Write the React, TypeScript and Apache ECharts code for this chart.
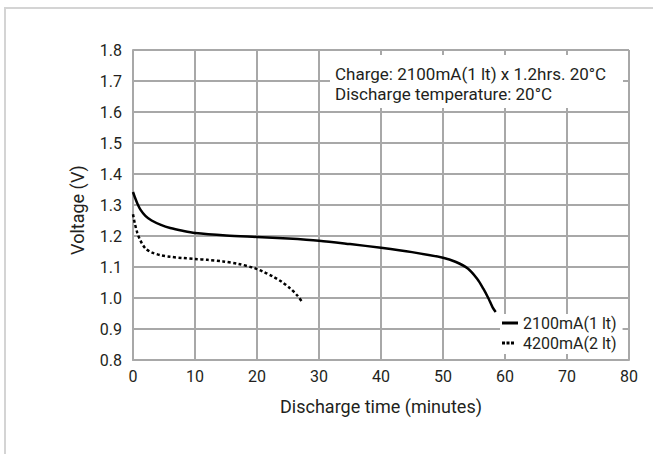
import React, { useEffect, useRef } from "react";
import * as echarts from "echarts";

const xTicks = [0, 10, 20, 30, 40, 50, 60, 70, 80];
const yTicks = [0.8, 0.9, 1.0, 1.1, 1.2, 1.3, 1.4, 1.5, 1.6, 1.7, 1.8];

const seriesNames = ["2100mA(1 lt)", "4200mA(2 lt)"];

const time2100 = [0, 0.3, 0.7, 1.2, 2, 3, 4.5, 6, 8, 10, 15, 20, 25, 30, 35, 40, 45, 50, 52, 54, 55.5, 56.5, 57.3, 58, 58.5];
const volt2100 = [1.342, 1.325, 1.305, 1.285, 1.265, 1.25, 1.236, 1.226, 1.217, 1.21, 1.202, 1.197, 1.192, 1.185, 1.174, 1.162, 1.148, 1.13, 1.117, 1.095, 1.062, 1.03, 1.0, 0.97, 0.955];

const time4200 = [0, 0.3, 0.7, 1.2, 2, 3, 4.5, 6, 8, 10, 12, 14.5, 17, 19.5, 21, 22.6, 24, 25.3, 26.5, 27.4];
const volt4200 = [1.27, 1.24, 1.21, 1.185, 1.16, 1.147, 1.138, 1.133, 1.129, 1.126, 1.123, 1.118, 1.11, 1.097, 1.085, 1.069, 1.052, 1.032, 1.008, 0.984];

const noteLines = ["Charge: 2100mA(1 lt) x 1.2hrs. 20°C", "Discharge temperature: 20°C"];

const xName = "Discharge time (minutes)";
const yName = "Voltage (V)";

const FONT = "Roboto, 'Noto Sans', sans-serif";
const TEXT = "#231f20";
const GRID = "#a8a8a8";

const solidIcon = "path://M0,0H16V3H0Z";
const dottedIcon = "path://M0,0H3V3H0Z M4.5,0H7.5V3H4.5Z M9,0H12V3H9Z M16,0L16,3";

export default function App() {
  const ref = useRef<HTMLDivElement>(null);
  useEffect(() => {
    if (!ref.current) return;
    const chart = echarts.init(ref.current, undefined, { renderer: "svg" });
    const pair = (xs: number[], ys: number[]) => xs.map((x, i) => [x, ys[i]]);
    chart.setOption({
      animation: false,
      backgroundColor: "#fff",
      textStyle: { fontFamily: FONT },
      grid: { left: 133, right: 24, top: 50, bottom: 94, containLabel: false },
      xAxis: {
        type: "value",
        min: xTicks[0],
        max: xTicks[xTicks.length - 1],
        interval: 10,
        name: xName,
        nameLocation: "middle",
        nameGap: 37,
        nameTextStyle: { fontSize: 18, color: TEXT, fontFamily: FONT },
        axisLine: { show: true, lineStyle: { color: GRID, width: 2 } },
        axisTick: { show: false },
        axisLabel: { fontSize: 16, color: TEXT, margin: 8, fontFamily: FONT },
        splitLine: { show: true, lineStyle: { color: GRID, width: 2 } },
      },
      yAxis: {
        type: "value",
        min: yTicks[0],
        max: yTicks[yTicks.length - 1],
        interval: 0.1,
        name: yName,
        nameLocation: "middle",
        nameGap: 47,
        nameTextStyle: { fontSize: 18, color: TEXT, fontFamily: FONT, padding: [0, 10, 0, 0] },
        axisLine: { show: true, lineStyle: { color: GRID, width: 2 } },
        axisTick: { show: false },
        axisLabel: {
          fontSize: 16,
          color: TEXT,
          margin: 11,
          fontFamily: FONT,
          formatter: (v: number) => v.toFixed(1),
        },
        splitLine: { show: true, lineStyle: { color: GRID, width: 2 } },
      },
      legend: {
        orient: "vertical",
        left: 500,
        top: 314,
        padding: [1, 6, 3, 2],
        itemWidth: 16,
        itemHeight: 3,
        itemGap: 4,
        backgroundColor: "#fff",
        textStyle: { fontSize: 16, color: TEXT, fontFamily: FONT },
        data: [
          { name: seriesNames[0], icon: solidIcon, itemStyle: { color: "#000" } },
          { name: seriesNames[1], icon: dottedIcon, itemStyle: { color: "#000" } },
        ],
      },
      series: [
        {
          name: seriesNames[0],
          type: "line",
          data: pair(time2100, volt2100),
          smooth: 0.3,
          symbol: "none",
          lineStyle: { color: "#000", width: 2.5 },
          itemStyle: { color: "#000" },
          z: 3,
        },
        {
          name: seriesNames[1],
          type: "line",
          data: pair(time4200, volt4200),
          smooth: 0.3,
          symbol: "none",
          lineStyle: { color: "#000", width: 2.5, type: [3, 2.5] },
          itemStyle: { color: "#000" },
          z: 3,
        },
      ],
      graphic: [
        {
          type: "rect",
          z: 0,
          silent: true,
          shape: { x: 5, y: 8, width: 700, height: 500 },
          style: { fill: "none", stroke: "#d4d4d4", lineWidth: 2 },
        },
        {
          type: "group",
          z: 10,
          children: [
            {
              type: "rect",
              z: 10,
              shape: { x: 330, y: 55, width: 293, height: 53 },
              style: { fill: "#fff" },
            },
            {
              type: "text",
              z: 11,
              x: 335,
              y: 74,
              style: { text: noteLines[0], font: `17px ${FONT}`, fill: TEXT, verticalAlign: "middle" },
            },
            {
              type: "text",
              z: 11,
              x: 335,
              y: 94,
              style: { text: noteLines[1], font: `17px ${FONT}`, fill: TEXT, verticalAlign: "middle" },
            },
          ],
        },
      ],
    });
    return () => chart.dispose();
  }, []);
  return (
    <div
      ref={ref}
      style={{ position: "fixed", left: 0, top: 0, width: 653, height: 454, background: "#fff" }}
    />
  );
}
